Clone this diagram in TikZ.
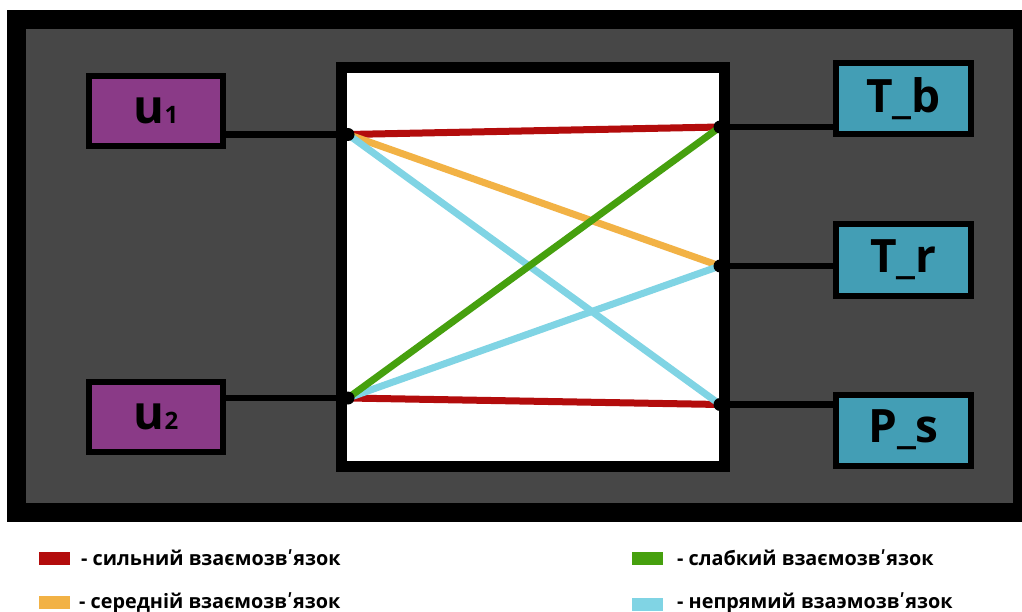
\documentclass[tikz,border=0pt]{standalone}
\usepackage{fontspec}
\setmainfont{Open Sans}
\newfontfamily\djv{DejaVu Sans}
\newcommand{\apos}{{\djv ʹ}}
\begin{document}
\begin{tikzpicture}[x=1pt,y=-1pt,
  ubox/.style={draw=black,line width=6pt,fill=upurple,minimum width=134pt,minimum height=70pt,inner sep=0pt,font=\bfseries\fontsize{47}{47}\selectfont},
  tbox/.style={draw=black,line width=6pt,fill=tteal,minimum width=135pt,minimum height=71pt,inner sep=0pt,font=\bfseries\fontsize{46}{46}\selectfont},
  wire/.style={black,line width=6.5pt},
  link/.style={line width=7pt},
  dotc/.style={fill=black},
  swatch/.style={inner sep=0pt,minimum width=31pt,minimum height=13pt},
  legtxt/.style={anchor=west,inner sep=0pt,font=\bfseries\fontsize{19.8}{20}\selectfont}
]
\definecolor{upurple}{HTML}{8A3A87}
\definecolor{tteal}{HTML}{439EB5}
\definecolor{bggray}{HTML}{474747}
\definecolor{cred}{HTML}{B30C0C}
\definecolor{corange}{HTML}{F2B245}
\definecolor{ccyan}{HTML}{80D4E4}
\definecolor{cgreen}{HTML}{46A00E}
\useasboundingbox (0,0) rectangle (1022,612);
\fill[white] (0,0) rectangle (1022,612);
% outer frame
\fill[black] (7,10) rectangle (1022,522);
\fill[bggray] (26,29) rectangle (1013,503);
% central white box
\draw[line width=11pt,fill=white] (341.5,67.5) rectangle (724.5,466);
% nodes
\node[ubox] (u1) at (156,111) {u{\fontsize{24}{24}\selectfont 1}};
\node[ubox] (u2) at (156,416.5) {u{\fontsize{24}{24}\selectfont 2}};
\node[tbox] (tb) at (903.5,98.5) {T\_b};
\node[tbox] (tr) at (903.5,260) {T\_r};
\node[tbox] (ps) at (903.5,430) {P\_s};
% junction points
\coordinate (L1) at (348,134.5);
\coordinate (L2) at (348,398);
\coordinate (R1) at (720,127);
\coordinate (R2) at (720,266);
\coordinate (R3) at (720,404.5);
% wires
\draw[wire] (u1.east |- L1) -- (L1);
\draw[wire] (u2.east |- L2) -- (L2);
\draw[wire] (R1) -- (tb.west |- R1);
\draw[wire] (R2) -- (tr.west |- R2);
\draw[wire] (R3) -- (ps.west |- R3);
% links
\draw[link,cred] (L1) -- (R1);
\draw[link,cred] (L2) -- (R3);
\draw[link,corange] (L1) -- (R2);
\draw[link,ccyan] (L1) -- (R3);
\draw[link,ccyan] (L2) -- (R2);
\draw[link,cgreen] (L2) -- (R1);
% dots
\foreach \p in {L1,L2,R1,R2,R3} \fill[dotc] (\p) circle (6.5pt);
% legend
\node[swatch,fill=cred] (s1) at (54,558) {};
\node[swatch,fill=corange] (s2) at (54,602.5) {};
\node[swatch,fill=cgreen] (s3) at (647.5,558) {};
\node[swatch,fill=ccyan] (s4) at (647.5,604.5) {};
\node[legtxt] (t1) at (81,558) {- сильний взаємозв\apos язок};
\node[legtxt] (t2) at (79,603) {- середній взаємозв\apos язок};
\node[legtxt] (t3) at (677,558) {- слабкий взаємозв\apos язок};
\node[legtxt] (t4) at (677,603) {- непрямий взаэмозв\apos язок};
\end{tikzpicture}
\end{document}
